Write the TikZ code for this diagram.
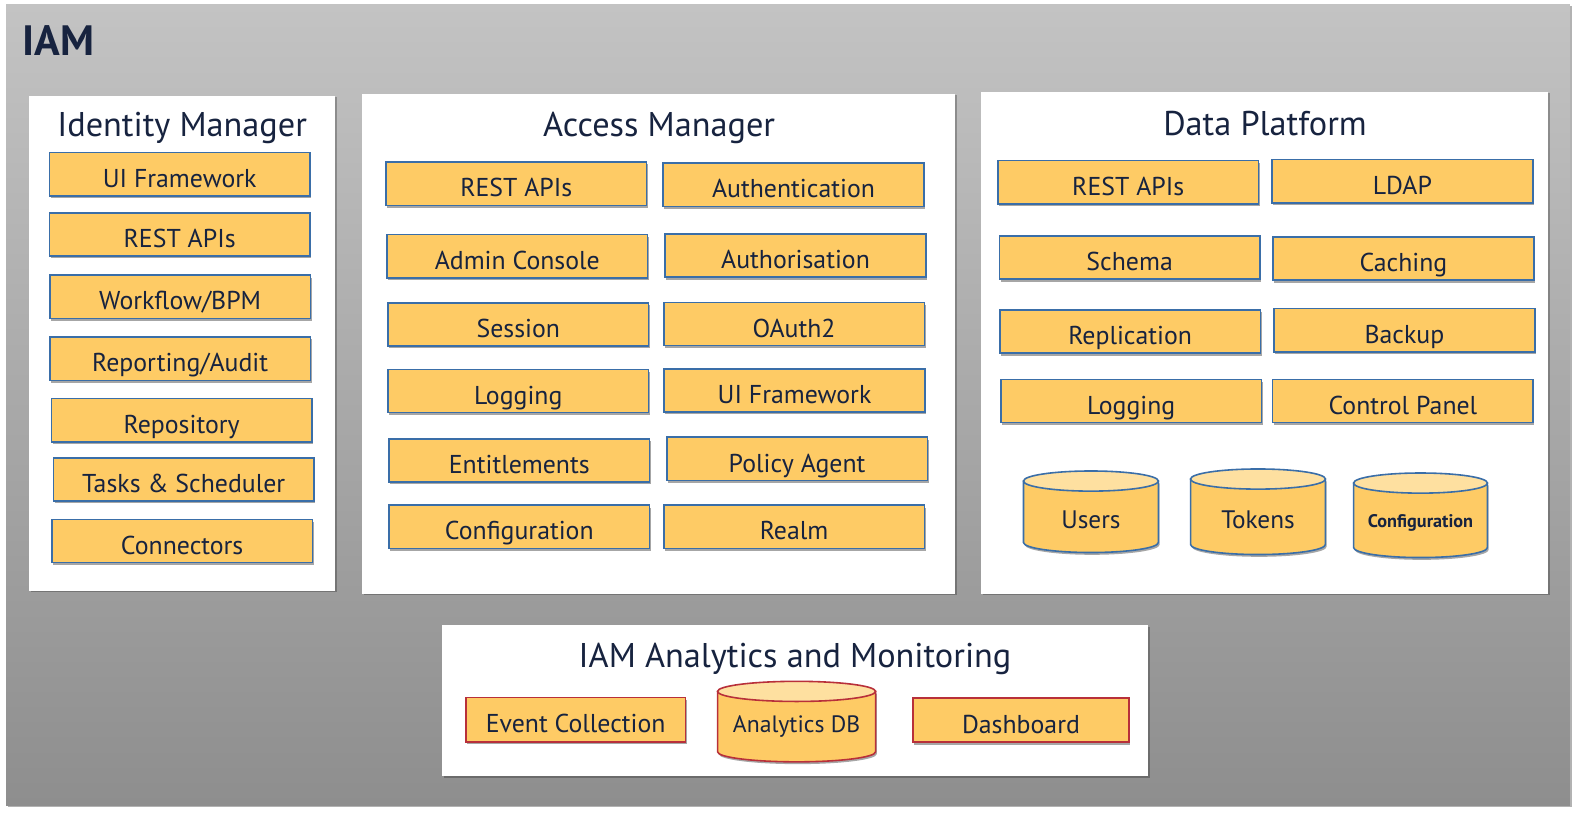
\documentclass[tikz,border=0pt]{standalone}
\usepackage{fontspec}
\setmainfont{PT Sans}
\usetikzlibrary{shadows}
\definecolor{navy}{HTML}{17233F}
\definecolor{boxfill}{HTML}{FECB65}
\definecolor{boxblue}{HTML}{3A6EA8}
\definecolor{boxred}{HTML}{B8303A}
\definecolor{cyltop}{HTML}{FEE0A0}
\definecolor{bgtop}{HTML}{C3C3C3}
\definecolor{bgbot}{HTML}{8E8E8E}
\begin{document}
\begin{tikzpicture}[x=0.02cm,y=-0.02cm,
    shad/.style={drop shadow={shadow xshift=0.7pt,shadow yshift=-1.3pt,opacity=0.35,fill=black}},
    comp/.style={draw=boxblue,line width=0.9pt,fill=boxfill,text=navy,inner sep=0pt,
      text height=14.8pt,text depth=0pt,
      minimum width=5.18cm,minimum height=0.86cm,font=\fontsize{14.6}{17}\selectfont,shad},
    redcomp/.style={comp,draw=boxred,minimum height=0.88cm},
    panel/.style={fill=white,inner sep=0pt,
      drop shadow={shadow xshift=1pt,shadow yshift=-1pt,opacity=0.25,fill=black}},
    title/.style={text=navy,inner sep=0pt,text height=13.6pt,text depth=0pt,font=\fontsize{19.4}{23}\selectfont},
    cyl/.style={fill=boxfill,draw=boxblue,line width=0.9pt},
    dbtext/.style={text=navy,inner sep=0pt,text height=10pt,text depth=0pt,font=\fontsize{14.3}{17}\selectfont}]
  \useasboundingbox (0,0) rectangle (1568,809);

  % background
  \node[shade,top color=bgtop,bottom color=bgbot,inner sep=0pt,minimum width=31.08cm,minimum height=15.92cm,
    drop shadow={shadow xshift=1.2pt,shadow yshift=-1.2pt,opacity=0.3,fill=black}] (iam) at (783,402) {};
  \node[anchor=west,text=navy,inner sep=0pt,text height=16.8pt,text depth=0pt,
    font=\fontsize{24}{29}\bfseries\selectfont] (iamtitle) at (22,40) {IAM};

  % panels
  \node[panel,minimum width=6.08cm,minimum height=9.84cm] (im) at (181,341) {};
  \node[panel,minimum width=11.78cm,minimum height=9.94cm] (am) at (654.5,341.5) {};
  \node[panel,minimum width=11.26cm,minimum height=9.98cm] (dp) at (1256.5,340.5) {};
  \node[panel,minimum width=14.04cm,minimum height=3cm] (an) at (790,696) {};

  \node[title] (imtitle) at (181,124) {Identity Manager};
  \node[title] (amtitle) at (655,124) {Access Manager};
  \node[title] (dptitle) at (1257,123) {Data Platform};
  \node[title] (antitle) at (790,651) {IAM Analytics and Monitoring};

  % identity manager
  \node[comp] (imui) at (178.5,173) {UI Framework};
  \node[comp] (imrest) at (178.5,233) {REST APIs};
  \node[comp] (imwf) at (179,295) {Workflow/BPM};
  \node[comp] (imrep) at (179,356.5) {Reporting/Audit};
  \node[comp] (imrepo) at (180.5,417.5) {Repository};
  \node[comp] (imtask) at (182.5,476.5) {Tasks \& Scheduler};
  \node[comp] (imconn) at (181,537.5) {Connectors};

  % access manager
  \node[comp] (amrest) at (513,182.5) {REST APIs};
  \node[comp] (amadmin) at (514,254.5) {Admin Console};
  \node[comp] (amsess) at (515,322.5) {Session};
  \node[comp] (amlog) at (515,388.5) {Logging};
  \node[comp] (ament) at (516,457.5) {Entitlements};
  \node[comp] (amconf) at (516,523.5) {Configuration};
  \node[comp] (amauthn) at (788.5,183.5) {Authentication};
  \node[comp] (amauthz) at (790.5,254) {Authorisation};
  \node[comp] (amoauth) at (789,322) {OAuth2};
  \node[comp] (amui) at (789.5,388) {UI Framework};
  \node[comp] (amagent) at (792,456) {Policy Agent};
  \node[comp] (amrealm) at (789,523.5) {Realm};

  % data platform
  \node[comp] (dprest) at (1121,181) {REST APIs};
  \node[comp] (dpschema) at (1122.5,256) {Schema};
  \node[comp] (dprepl) at (1123,329.5) {Replication};
  \node[comp] (dplog) at (1124,398.5) {Logging};
  \node[comp] (dpldap) at (1393.5,180) {LDAP};
  \node[comp] (dpcache) at (1394.5,257) {Caching};
  \node[comp] (dpbackup) at (1395.5,328) {Backup};
  \node[comp] (dpcp) at (1394,398.5) {Control Panel};

  \filldraw[cyl,shad] (1017,478) -- (1017,539) arc[start angle=180,end angle=0,x radius=67,y radius=10] -- (1151,478) -- cycle;
  \filldraw[cyl,fill=cyltop] (1084,478) ellipse[x radius=67,y radius=10];
  \node[dbtext] (users) at (1084,516) {Users};

  \filldraw[cyl,shad] (1183,476) -- (1183,541) arc[start angle=180,end angle=0,x radius=67,y radius=10] -- (1317,476) -- cycle;
  \filldraw[cyl,fill=cyltop] (1250,476) ellipse[x radius=67,y radius=10];
  \node[dbtext] (tokens) at (1250,516) {Tokens};

  \filldraw[cyl,shad] (1345,480) -- (1345,544) arc[start angle=180,end angle=0,x radius=66.5,y radius=10] -- (1478,480) -- cycle;
  \filldraw[cyl,fill=cyltop] (1411.5,480) ellipse[x radius=66.5,y radius=10];
  \node[dbtext,text height=7.2pt,font=\fontsize{10.3}{12}\bfseries\selectfont] (dpconf) at (1411.5,518) {Configuration};

  % analytics
  \node[redcomp,minimum width=4.36cm] (anevent) at (572,715) {Event Collection};
  \node[redcomp,minimum width=4.3cm] (andash) at (1014.5,715.5) {Dashboard};
  \filldraw[cyl,draw=boxred,shad] (713,687) -- (713,747) arc[start angle=180,end angle=0,x radius=78.5,y radius=10] -- (870,687) -- cycle;
  \filldraw[cyl,draw=boxred,fill=cyltop] (791.5,687) ellipse[x radius=78.5,y radius=10];
  \node[dbtext,text height=9.4pt,font=\fontsize{13.4}{16}\selectfont] (andb) at (791.5,720) {Analytics DB};
\end{tikzpicture}
\end{document}
